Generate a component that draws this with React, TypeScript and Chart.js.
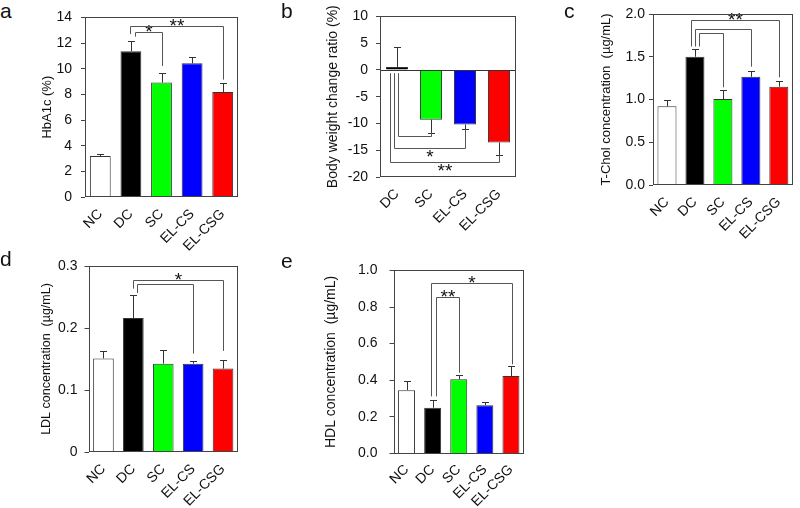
import React, { useEffect, useRef } from "react";
import { Chart, registerables } from "chart.js";
Chart.register(...registerables);

// ---------- data ----------
const groups5 = ["NC", "DC", "SC", "EL-CS", "EL-CSG"];
const groups4 = ["DC", "SC", "EL-CS", "EL-CSG"];
const colors5 = ["#ffffff", "#000000", "#00ff00", "#0000ff", "#ff0000"];
const colors4 = ["#000000", "#00ff00", "#0000ff", "#ff0000"];

const hba1c = [3.19, 11.37, 8.92, 10.42, 8.18];
const hba1cErr = [0.18, 0.77, 0.77, 0.49, 0.74];
const bodyWeight = [0.55, -9.29, -10.2, -13.54];
const bodyWeightErr = [3.8, 2.43, 0.9, 2.43];
const tchol = [0.92, 1.5, 1.005, 1.265, 1.15];
const tcholErr = [0.08, 0.085, 0.11, 0.065, 0.07];
const ldl = [0.151, 0.216, 0.1425, 0.1425, 0.1345];
const ldlErr = [0.012, 0.037, 0.022, 0.0045, 0.0145];
const hdl = [0.346, 0.25, 0.405, 0.264, 0.423];
const hdlErr = [0.052, 0.042, 0.023, 0.016, 0.054];

type Bracket = {
  a: number; aShift: number; aEnd: number;
  b: number; bShift: number; bEnd: number;
  level: number; label: string; below?: boolean;
};

const bracketsA: Bracket[] = [
  { a: 1, aShift: 0.13, aEnd: 12.5, b: 2, bShift: 0, bEnd: 10.22, level: 12.83, label: "*" },
  { a: 1, aShift: -0.03, aEnd: 12.7, b: 4, bShift: 0, bEnd: 9.15, level: 13.33, label: "**" },
];
const bracketsB: Bracket[] = [
  { a: 0, aShift: 0.04, aEnd: -0.6, b: 1, bShift: 0, bEnd: -11.72, level: -12.4, label: "" },
  { a: 0, aShift: -0.1, aEnd: -0.6, b: 2, bShift: 0, bEnd: -11.1, level: -14.5, label: "*", below: true },
  { a: 0, aShift: -0.2, aEnd: -0.6, b: 3, bShift: 0, bEnd: -15.97, level: -17.25, label: "**", below: true },
];
const bracketsC: Bracket[] = [
  { a: 1, aShift: 0.13, aEnd: 1.62, b: 2, bShift: 0, bEnd: 1.143, level: 1.78, label: "" },
  { a: 1, aShift: 0, aEnd: 1.62, b: 3, bShift: 0, bEnd: 1.384, level: 1.825, label: "" },
  { a: 1, aShift: -0.13, aEnd: 1.62, b: 4, bShift: 0, bEnd: 1.26, level: 1.93, label: "**" },
];
const bracketsD: Bracket[] = [
  { a: 1, aShift: 0.12, aEnd: 0.2565, b: 3, bShift: 0, bEnd: 0.1587, level: 0.2716, label: "" },
  { a: 1, aShift: -0.02, aEnd: 0.2635, b: 4, bShift: 0, bEnd: 0.163, level: 0.2769, label: "*" },
];
const bracketsE: Bracket[] = [
  { a: 1, aShift: 0.11, aEnd: 0.312, b: 2, bShift: 0, bEnd: 0.441, level: 0.857, label: "**" },
  { a: 1, aShift: -0.07, aEnd: 0.312, b: 4, bShift: 0.05, bEnd: 0.487, level: 0.929, label: "*" },
];

const FONT = "'Liberation Sans', Arial, Helvetica, sans-serif";

type Panel = {
  letter: string; letterX: number; letterY: number;
  left: number; top: number; w: number; h: number;
  yw: number; xh: number; pt: number; pr: number;
  labels: string[]; values: number[]; errors: number[]; colors: string[];
  min: number; max: number; step: number; fmt: (v: number) => string;
  title: string; titleSize: number; titlePad: number;
  tickSize: number; tickPad: number; xTickSize: number; xTickPad: number;
  barPct: number; brackets: Bracket[]; zeroLine?: boolean;
};

const panels: Panel[] = [
  {
    letter: "a", letterX: 0, letterY: 18,
    left: 20, top: 0, w: 240, h: 255, yw: 65, xh: 58, pt: 14, pr: 22,
    labels: groups5, values: hba1c, errors: hba1cErr, colors: colors5,
    min: 0, max: 14, step: 2, fmt: (v) => String(v),
    title: "HbA1c (%)", titleSize: 13, titlePad: 19.2,
    tickSize: 14, tickPad: 9, xTickSize: 14, xTickPad: 9,
    barPct: 0.68, brackets: bracketsA,
  },
  {
    letter: "b", letterX: 281, letterY: 18,
    left: 300, top: 0, w: 230, h: 255, yw: 80, xh: 78, pt: 13, pr: 14,
    labels: groups4, values: bodyWeight, errors: bodyWeightErr, colors: colors4,
    min: -20, max: 10, step: 5, fmt: (v) => String(v),
    title: "Body weight change ratio (%)", titleSize: 14, titlePad: 24.6,
    tickSize: 14, tickPad: 8, xTickSize: 14, xTickPad: 9,
    barPct: 0.65, brackets: bracketsB, zeroLine: true,
  },
  {
    letter: "c", letterX: 564, letterY: 18,
    left: 580, top: 0, w: 220, h: 255, yw: 73, xh: 70, pt: 14, pr: 3,
    labels: groups5, values: tchol, errors: tcholErr, colors: colors5,
    min: 0, max: 2, step: 0.5, fmt: (v) => v.toFixed(1),
    title: "T-Chol concentration  (\u00b5g/mL)", titleSize: 13, titlePad: 18.7,
    tickSize: 14, tickPad: 4, xTickSize: 14, xTickPad: 9,
    barPct: 0.68, brackets: bracketsC,
  },
  {
    letter: "d", letterX: 0, letterY: 266,
    left: 20, top: 250, w: 240, h: 258, yw: 68.5, xh: 56, pt: 16, pr: 22,
    labels: groups5, values: ldl, errors: ldlErr, colors: colors5,
    min: 0, max: 0.3, step: 0.1, fmt: (v) => (Math.abs(v) < 1e-9 ? "0" : v.toFixed(1)),
    title: "LDL concentration  (\u00b5g/mL)", titleSize: 12.5, titlePad: 19.2,
    tickSize: 14, tickPad: 7, xTickSize: 14, xTickPad: 9,
    barPct: 0.69, brackets: bracketsD,
  },
  {
    letter: "e", letterX: 281, letterY: 268,
    left: 300, top: 250, w: 240, h: 258, yw: 93.5, xh: 54.5, pt: 17, pr: 16,
    labels: groups5, values: hdl, errors: hdlErr, colors: colors5,
    min: 0, max: 1, step: 0.2, fmt: (v) => v.toFixed(1),
    title: "HDL concentration  (\u00b5g/mL)", titleSize: 14, titlePad: 23.1,
    tickSize: 14, tickPad: 12, xTickSize: 14, xTickPad: 8,
    barPct: 0.65, brackets: bracketsE,
  },
];

function decorPlugin(p: Panel) {
  return {
    id: "decor_" + p.letter,
    afterDatasetsDraw(chart: any) {
      const { ctx, chartArea: ca } = chart;
      const xs = chart.scales.x;
      const ys = chart.scales.y;
      const meta = chart.getDatasetMeta(0);
      ctx.save();
      ctx.lineWidth = 1;
      // zero line
      if (p.zeroLine) {
        const y0 = Math.round(ys.getPixelForValue(0)) + 0.5;
        ctx.strokeStyle = "#333";
        ctx.beginPath();
        ctx.moveTo(ca.left, y0);
        ctx.lineTo(ca.right, y0);
        ctx.stroke();
      }
      // error bars
      ctx.strokeStyle = "#333";
      meta.data.forEach((bar: any, i: number) => {
        const v = p.values[i];
        const e = p.errors[i];
        const sgn = v >= 0 ? 1 : -1;
        const x = Math.round(bar.x) + 0.5;
        const y1 = ys.getPixelForValue(v);
        const y2 = Math.round(ys.getPixelForValue(v + sgn * e)) + 0.5;
        ctx.beginPath();
        ctx.moveTo(x, y1);
        ctx.lineTo(x, y2);
        ctx.moveTo(x - 3.5, y2);
        ctx.lineTo(x + 3.5, y2);
        ctx.stroke();
      });
      // brackets
      const cw = (xs.right - xs.left) / p.labels.length;
      ctx.strokeStyle = "#555";
      for (const b of p.brackets) {
        const xa = Math.round(xs.getPixelForValue(b.a) + b.aShift * cw) + 0.5;
        const xb = Math.round(xs.getPixelForValue(b.b) + b.bShift * cw) + 0.5;
        const ya = ys.getPixelForValue(b.aEnd);
        const yb = ys.getPixelForValue(b.bEnd);
        const yl = Math.round(ys.getPixelForValue(b.level)) + 0.5;
        ctx.beginPath();
        ctx.moveTo(xa, ya);
        ctx.lineTo(xa, yl);
        ctx.lineTo(xb, yl);
        ctx.lineTo(xb, yb);
        ctx.stroke();
        if (b.label) {
          ctx.font = "19px " + FONT;
          ctx.fillStyle = "#111";
          ctx.textAlign = "center";
          ctx.textBaseline = "alphabetic";
          const m = ctx.measureText(b.label);
          const asc = m.actualBoundingBoxAscent;
          const desc = m.actualBoundingBoxDescent;
          const yc = b.below ? yl + 5 : yl - 4;
          ctx.fillText(b.label, (xa + xb) / 2, yc + (asc - desc) / 2);
        }
      }
      // frame
      ctx.strokeStyle = "#444";
      const l = Math.round(ca.left) + 0.5;
      const t = Math.round(ca.top) + 0.5;
      const r = Math.round(ca.right) - 0.5;
      const bt = Math.round(ca.bottom) - 0.5;
      ctx.strokeRect(l, t, r - l, bt - t);
      ctx.restore();
    },
  };
}

function PanelChart({ p }: { p: Panel }) {
  const ref = useRef<HTMLCanvasElement | null>(null);
  useEffect(() => {
    if (!ref.current) return;
    const chart = new Chart(ref.current, {
      type: "bar",
      data: {
        labels: p.labels,
        datasets: [
          {
            data: p.values,
            backgroundColor: p.colors,
            borderColor: "#333",
            borderWidth: 1,
            categoryPercentage: 1,
            barPercentage: p.barPct,
          },
        ],
      },
      options: {
        responsive: false,
        animation: false,
        devicePixelRatio: 1,
        layout: { padding: { left: 0, top: p.pt, right: p.pr, bottom: 0 } },
        plugins: { legend: { display: false }, tooltip: { enabled: false } },
        scales: {
          x: {
            grid: { display: false, drawTicks: false },
            border: { display: false },
            ticks: {
              autoSkip: false,
              minRotation: 45,
              maxRotation: 45,
              padding: p.xTickPad,
              color: "#111",
              font: { family: FONT, size: p.xTickSize },
            },
            afterFit: (s: any) => { s.height = p.xh; },
          },
          y: {
            min: p.min,
            max: p.max,
            grid: { display: true, drawOnChartArea: false, drawTicks: true, tickLength: 4, color: "#444" },
            border: { display: false },
            ticks: {
              stepSize: p.step,
              padding: p.tickPad,
              color: "#111",
              font: { family: FONT, size: p.tickSize },
              callback: (v: any) => p.fmt(Number(v)),
            },
            title: {
              display: true,
              text: p.title,
              color: "#111",
              font: { family: FONT, size: p.titleSize },
              padding: { top: p.titlePad, bottom: 0 },
            },
            afterFit: (s: any) => { s.width = p.yw; },
          },
        },
      },
      plugins: [decorPlugin(p)],
    } as any);
    return () => chart.destroy();
  }, [p]);
  return (
    <canvas
      ref={ref}
      width={p.w}
      height={p.h}
      style={{ position: "absolute", left: p.left, top: p.top, width: p.w, height: p.h }}
    />
  );
}

export default function App() {
  return (
    <div style={{ position: "absolute", left: 0, top: 0, width: 800, height: 508, background: "#fff", overflow: "hidden" }}>
      {panels.map((p) => (
        <PanelChart key={p.letter} p={p} />
      ))}
      {panels.map((p) => (
        <div
          key={"l" + p.letter}
          style={{
            position: "absolute",
            left: p.letterX,
            top: p.letterY - 17,
            fontFamily: FONT,
            fontSize: 21,
            lineHeight: "20px",
            color: "#111",
          }}
        >
          {p.letter}
        </div>
      ))}
    </div>
  );
}
